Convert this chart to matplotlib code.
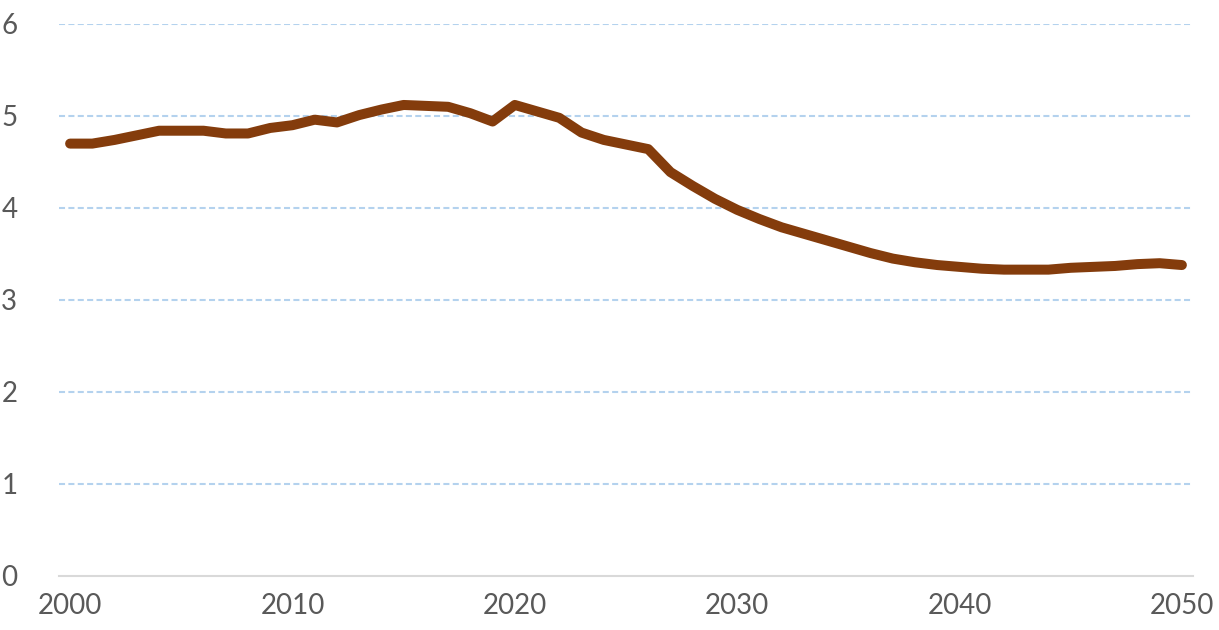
import matplotlib.pyplot as plt

years = list(range(2000, 2051))
values = [4.70, 4.70, 4.74, 4.79, 4.84, 4.84, 4.84, 4.81, 4.81, 4.87,
          4.90, 4.96, 4.93, 5.01, 5.07, 5.12, 5.11, 5.10, 5.03, 4.94,
          5.12, 5.05, 4.98, 4.82, 4.74, 4.69, 4.64, 4.39, 4.24, 4.10,
          3.98, 3.88, 3.79, 3.72, 3.65, 3.58, 3.51, 3.45, 3.41, 3.38,
          3.36, 3.34, 3.33, 3.33, 3.33, 3.35, 3.36, 3.37, 3.39, 3.40, 3.38]
xticks = [2000, 2010, 2020, 2030, 2040, 2050]
yticks = [0, 1, 2, 3, 4, 5, 6]

plt.rcParams['font.family'] = ['Lato', 'DejaVu Sans']

fig = plt.figure(figsize=(12.19, 6.30), dpi=100)
ax = fig.add_axes([59 / 1219, 54 / 630, 1134 / 1219, 552 / 630])

ax.plot(years, values, color='#843C0C', linewidth=7.2, solid_capstyle='round',
        solid_joinstyle='round', zorder=3)

ax.set_xlim(1999.5, 2050.5)
ax.set_ylim(0, 6)
ax.set_xticks(xticks)
ax.set_yticks(yticks)

for y in yticks[1:]:
    ax.axhline(y, color='#B4D2EE', linewidth=1.5, linestyle=(0, (2.9, 1.6)), zorder=1)

for side in ['top', 'right', 'left']:
    ax.spines[side].set_visible(False)
ax.spines['bottom'].set_color('#D9D9D9')
ax.spines['bottom'].set_linewidth(1.5)

ax.tick_params(axis='both', length=0, labelsize=20, colors='#595959')
ax.tick_params(axis='y', pad=30)
ax.tick_params(axis='x', pad=12)

fig.savefig('out.png', dpi=100)
